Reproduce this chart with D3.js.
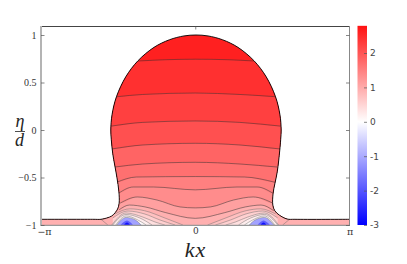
<!DOCTYPE html>
<html>
<head>
<meta charset="utf-8">
<script src="https://cdn.jsdelivr.net/npm/d3@7"></script>
<style>
    html, body { margin: 0; padding: 0; background: #fff; overflow: hidden; }
    svg { display: block; }
    text { opacity: 0.99; }
    .serif text, text.serif { font-family: "Liberation Serif", serif; fill: #333; }
</style>
</head>
<body>
<script>
// Droplet surface, [kx, eta]
const surface = [[-3.14,-0.94],[-2.09,-0.94],[-1.92,-0.94],[-1.80,-0.926],[-1.70,-0.905],[-1.63,-0.87],[-1.58,-0.83],
    [-1.55,-0.77],[-1.555,-0.65],[-1.595,-0.5],[-1.64,-0.37],[-1.68,-0.25],[-1.71,-0.1],[-1.72,0],[-1.695,0.16],
    [-1.605,0.35],[-1.415,0.56],[-1.165,0.73],[-0.84,0.87],[-0.525,0.95],[-0.23,0.99],[0.015,1],[0.26,0.99],[0.555,0.95],
    [0.87,0.87],[1.195,0.73],[1.445,0.56],[1.635,0.35],[1.725,0.16],[1.75,0],[1.74,-0.1],[1.72,-0.22],[1.67,-0.44],
    [1.585,-0.67],[1.58,-0.79],[1.62,-0.85],[1.71,-0.895],[1.87,-0.937],[2.03,-0.94],[3.14,-0.94]];

// Contours that run across the droplet, top to bottom
const levelLines = [
    [[-1.17,0.726],[-0.58,0.74],[0,0.745],[0.65,0.74],[1.2,0.726]],
    [[-1.6,0.35],[-1.07,0.374],[0,0.389],[0.91,0.374],[1.65,0.35]],
    [[-1.72,0.04],[-1.07,0.08],[0,0.095],[0.91,0.08],[1.75,0.04]],
    [[-1.7,-0.2],[-1.07,-0.158],[0,-0.14],[0.91,-0.158],[1.73,-0.2]],
    [[-1.64,-0.39],[-1.07,-0.358],[0,-0.34],[0.91,-0.358],[1.67,-0.39]],
    [[-1.6,-0.55],[-1.2,-0.495],[0,-0.49],[1.0,-0.495],[1.62,-0.55]],
    [[-1.56,-0.665],[-1.26,-0.6],[-0.85,-0.6],[0,-0.63],[0.85,-0.6],[1.26,-0.6],[1.58,-0.665]],
    [[-1.53,-0.77],[-1.18,-0.705],[-0.78,-0.737],[-0.31,-0.81],[0,-0.82],[0.31,-0.81],[0.78,-0.737],[1.18,-0.705],[1.58,-0.77]],
    [[-1.55,-0.84],[-1.34,-0.79],[-1.02,-0.81],[-0.6,-0.87],[0,-0.93],[0.6,-0.87],[1.02,-0.81],[1.34,-0.79],[1.6,-0.85]]
];
const bandValues = [2.62, 2.44, 2.25, 2.06, 1.82, 1.68, 1.49, 1.35, 1.12, 0.93];

// Closed arcs around the left vortex, the right one is its mirror
const vortexArcs = [
    [[-1.64,-0.885],[-1.33,-0.83],[-1.03,-0.85],[-0.62,-0.926],[-0.25,-1]],
    [[-1.68,-0.926],[-1.37,-0.853],[-1.03,-0.884],[-0.72,-0.947],[-0.41,-1]],
    [[-1.70,-1],[-1.41,-0.874],[-1.07,-0.916],[-0.82,-0.968],[-0.62,-1]],
    [[-1.68,-1],[-1.41,-0.889],[-1.13,-0.926],[-0.88,-1]],
    [[-1.62,-1],[-1.41,-0.905],[-1.17,-0.947],[-1.0,-1]],
    [[-1.6,-1],[-1.41,-0.92],[-1.22,-0.947],[-1.1,-1]],
    [[-1.52,-1],[-1.39,-0.953],[-1.27,-1]],
    [[-1.45,-1],[-1.39,-0.974],[-1.33,-1]]
];
const arcValues = [0.74, 0.55, 0.38, 0.2, 0.05, -1.1, -1.9, -2.8];

// Short contour in the thin film next to the foot
const filmLine = [[-1.92,-0.94],[-1.78,-1]];

const yTicks = [-1, -0.5, 0, 0.5, 1];
const yTickLabels = ["−1", "−0.5", "0", "0.5", "1"];
const xTicks = [-Math.PI, 0, Math.PI];
const xTickLabels = ["−π", "0", "π"];
const barTicks = [-3, -2, -1, 0, 1, 2];
const barMax = 2.79;

const width = 407, height = 264;
const svg = d3.select("body").append("svg")
    .attr("width", width)
    .attr("height", height);

const x = d3.scaleLinear().domain([-Math.PI, Math.PI]).range([41, 349.5]);
const y = d3.scaleLinear().domain([-1, 1]).range([225, 35]);
const yBar = d3.scaleLinear().domain([-3, 2]).range([225, 53]);
const color = d3.scaleLinear().domain([-3, 0, 3]).range(["#0000ff", "#ffffff", "#ff0000"]);

const surfaceLine = d3.line().x(d => x(d[0])).y(d => y(d[1])).curve(d3.curveCatmullRom.alpha(0.5));
const contour = d3.line().x(d => x(d[0])).y(d => y(d[1])).curve(d3.curveMonotoneX);
const band = d3.area().x(d => x(d[0])).y0(y(-1)).y1(d => y(d[1])).curve(d3.curveMonotoneX);

const mirror = pts => pts.map(d => [-d[0], d[1]]).reverse();

// Clip everything to the droplet
const defs = svg.append("defs");
defs.append("clipPath").attr("id", "drop")
    .append("path")
    .attr("d", surfaceLine(surface) + `L${x(Math.PI)},${y(-1)}L${x(-Math.PI)},${y(-1)}Z`);

const fluid = svg.append("g").attr("clip-path", "url(#drop)");

fluid.append("rect")
    .attr("x", x(-Math.PI)).attr("y", y(1.05))
    .attr("width", x(Math.PI) - x(-Math.PI)).attr("height", y(-1) - y(1.05))
    .attr("fill", color(bandValues[0]));

// Filled bands, painted from the top down
levelLines.forEach(function(line, i) {
    const first = line[0], last = line[line.length - 1];
    const wide = [[-Math.PI, first[1]], ...line, [Math.PI, last[1]]];
    fluid.append("path").attr("d", band(wide)).attr("fill", color(bandValues[i + 1]));
});

[vortexArcs, vortexArcs.map(mirror)].forEach(function(arcs) {
    arcs.forEach(function(arc, i) {
        fluid.append("path").attr("d", band(arc)).attr("fill", color(arcValues[i]));
    });
});

// Contour lines
fluid.selectAll(".level")
    .data(levelLines)
    .enter().append("path")
    .attr("class", "level")
    .attr("d", contour)
    .attr("fill", "none")
    .attr("stroke", "#333")
    .attr("stroke-width", 0.5);

fluid.selectAll(".arc")
    .data([...vortexArcs.slice(0, 6), ...vortexArcs.slice(0, 6).map(mirror), filmLine, mirror(filmLine)])
    .enter().append("path")
    .attr("class", "arc")
    .attr("d", contour)
    .attr("fill", "none")
    .attr("stroke", "#666")
    .attr("stroke-width", 0.45);

svg.append("path")
    .attr("d", surfaceLine(surface))
    .attr("fill", "none")
    .attr("stroke", "#000")
    .attr("stroke-width", 0.9);

// Frame
const frame = svg.append("g");
frame.append("line").attr("x1", 41).attr("x2", 349.5).attr("y1", 26.5).attr("y2", 26.5)
    .attr("stroke", "#444").attr("stroke-width", 1);
frame.append("line").attr("x1", 41).attr("x2", 41).attr("y1", 26).attr("y2", 226)
    .attr("stroke", "#b4b4b4").attr("stroke-width", 2);
frame.append("line").attr("x1", 41).attr("x2", 350).attr("y1", 225.3).attr("y2", 225.3)
    .attr("stroke", "#999").attr("stroke-width", 1.3);
frame.append("line").attr("x1", 349.5).attr("x2", 349.5).attr("y1", 26).attr("y2", 226)
    .attr("stroke", "#888").attr("stroke-width", 1);

// Axes
const yAxis = svg.append("g").attr("class", "serif")
    .attr("transform", "translate(41,0)")
    .call(d3.axisLeft(y).tickValues(yTicks).tickFormat((d, i) => yTickLabels[i]).tickSize(-3.5).tickPadding(4.5));
yAxis.select(".domain").remove();
yAxis.selectAll("text").style("font-size", "10px");
yAxis.selectAll("line").attr("stroke", "#555").attr("stroke-width", 0.7);

const yAxisRight = svg.append("g")
    .attr("transform", "translate(349.5,0)")
    .call(d3.axisRight(y).tickValues(yTicks).tickFormat("").tickSize(-3.5));
yAxisRight.select(".domain").remove();
yAxisRight.selectAll("line").attr("stroke", "#555").attr("stroke-width", 0.7);

const xAxis = svg.append("g").attr("class", "serif")
    .attr("transform", "translate(0,225)")
    .call(d3.axisBottom(x).tickValues(xTicks).tickFormat((d, i) => xTickLabels[i]).tickSize(0).tickPadding(3));
xAxis.select(".domain").remove();
xAxis.selectAll("text")
    .style("font-family", "'DejaVu Serif', serif")
    .style("font-size", (d, i) => i === 1 ? "9px" : "9.5px")
    .attr("dx", (d, i) => i === 0 ? 3 : 0);

const xAxisTop = svg.append("g")
    .attr("transform", "translate(0,26.5)")
    .call(d3.axisTop(x).tickValues([0]).tickFormat("").tickSize(-3));
xAxisTop.select(".domain").remove();
xAxisTop.selectAll("line").attr("stroke", "#555").attr("stroke-width", 0.7);

// Axis titles
svg.append("text").attr("class", "serif")
    .attr("x", 195.5).attr("y", 256.5)
    .attr("text-anchor", "middle")
    .style("font-size", "22px").style("font-style", "italic").style("fill", "#222").style("letter-spacing", "1px")
    .text("kx");
svg.append("text").attr("class", "serif")
    .attr("x", 20).attr("y", 127)
    .attr("text-anchor", "middle")
    .style("font-size", "18px").style("font-style", "italic").style("fill", "#222")
    .text("η");
svg.append("line")
    .attr("x1", 15).attr("x2", 25).attr("y1", 131.5).attr("y2", 131.5)
    .attr("stroke", "#222").attr("stroke-width", 0.8);
svg.append("text").attr("class", "serif")
    .attr("x", 19.5).attr("y", 145.5)
    .attr("text-anchor", "middle")
    .style("font-size", "18px").style("font-style", "italic").style("fill", "#222")
    .text("d");

// Colour bar
const grad = defs.append("linearGradient").attr("id", "bar")
    .attr("x1", 0).attr("x2", 0).attr("y1", 1).attr("y2", 0);
[-3, 0, barMax].forEach(function(v) {
    grad.append("stop")
        .attr("offset", (v + 3) / (barMax + 3))
        .attr("stop-color", color(v));
});
svg.append("rect")
    .attr("x", 357.5).attr("y", yBar(barMax))
    .attr("width", 9.5).attr("height", yBar(-3) - yBar(barMax))
    .attr("fill", "url(#bar)");

const barAxis = svg.append("g")
    .attr("transform", "translate(367,0)")
    .call(d3.axisRight(yBar).tickValues(barTicks).tickFormat(d => d).tickSize(-3).tickPadding(3));
barAxis.select(".domain").remove();
barAxis.selectAll("line").attr("stroke", "#555").attr("stroke-width", 0.7);
barAxis.selectAll("text")
    .style("font-family", "'DejaVu Sans', sans-serif")
    .style("font-size", "9px")
    .style("fill", "#444");
</script>
</body>
</html>
